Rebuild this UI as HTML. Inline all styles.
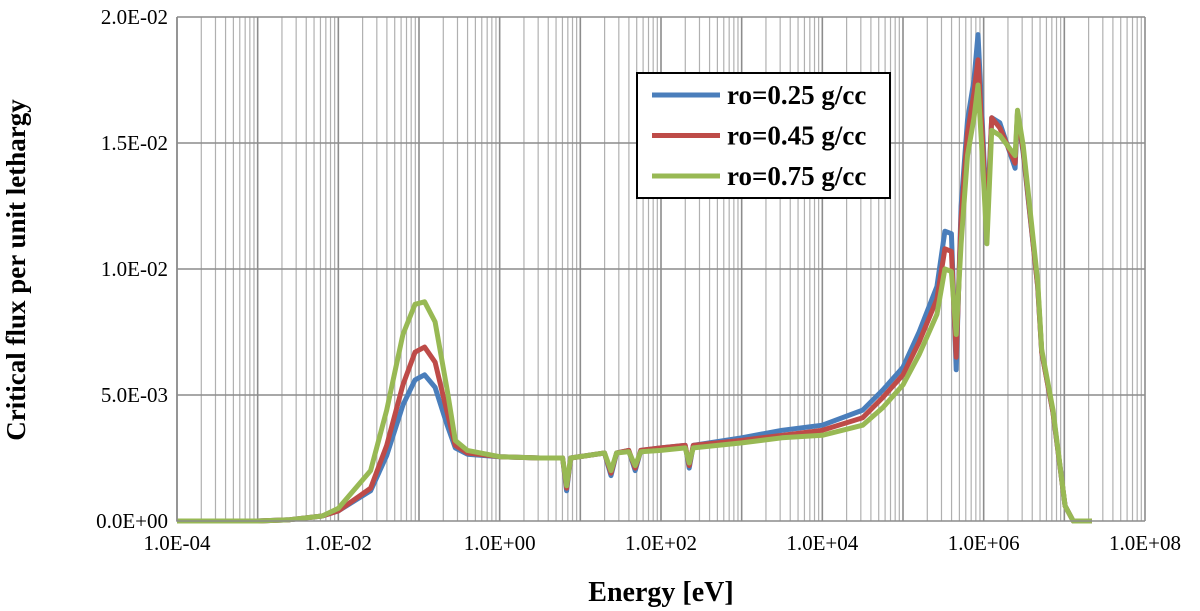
<!DOCTYPE html>
<html><head><meta charset="utf-8"><style>
body{margin:0;background:#fff}
svg{display:block;font-family:"Liberation Serif",serif}
</style></head><body>
<svg width="1200" height="611" viewBox="0 0 1200 611" xmlns="http://www.w3.org/2000/svg">
<g id="grid"></g>
<g id="series"></g>
<g id="axes"></g>
<text transform="translate(25,270) rotate(-90)" text-anchor="middle" font-weight="bold" font-size="27">Critical flux per unit lethargy</text>
<text x="661" y="601" text-anchor="middle" font-weight="bold" font-size="28">Energy [eV]</text>
<g>
<rect x="637" y="73" width="253" height="125" fill="#fff" stroke="#000" stroke-width="2"/>
<g id="legend-items"></g>
</g>
</svg>
<script>
const logE=[-4,-3,-2.6,-2.2,-2,-1.6,-1.4,-1.2,-1.05,-0.93,-0.8,-0.65,-0.55,-0.4,0,0.5,0.78,0.83,0.88,1.3,1.38,1.45,1.6,1.68,1.75,2.0,2.3,2.35,2.4,3,3.5,4,4.5,4.75,5.0,5.2,5.42,5.52,5.6,5.66,5.72,5.8,5.88,5.93,5.98,6.04,6.1,6.2,6.39,6.42,6.49,6.67,6.72,6.86,7.01,7.11,7.34];
const blueVals=[0,0,0.05,0.2,0.4,1.2,2.6,4.6,5.6,5.8,5.3,3.8,2.9,2.65,2.55,2.5,2.5,1.2,2.5,2.7,1.8,2.7,2.8,2.0,2.8,2.9,3.0,2.1,3.0,3.3,3.6,3.8,4.4,5.2,6.1,7.5,9.3,11.5,11.4,6.0,12.5,15.9,17.5,19.3,16.0,11.8,16.0,15.8,14.0,16.2,14.6,9.3,6.7,4.3,0.6,0,0];
const redVals=[0,0,0.05,0.2,0.4,1.3,3.0,5.4,6.7,6.9,6.3,4.3,3.0,2.7,2.55,2.5,2.5,1.3,2.5,2.7,1.9,2.7,2.8,2.1,2.8,2.9,3.0,2.2,3.0,3.2,3.4,3.6,4.1,4.9,5.8,7.1,8.8,10.8,10.7,6.5,12.0,15.4,17.0,18.3,15.5,11.5,16.0,15.6,14.2,16.2,14.7,9.3,6.7,4.3,0.6,0,0];
const greenVals=[0,0,0.05,0.2,0.5,2.0,4.4,7.4,8.6,8.7,7.9,5.2,3.2,2.8,2.55,2.5,2.5,1.4,2.5,2.7,2.0,2.7,2.75,2.2,2.75,2.8,2.9,2.3,2.9,3.1,3.3,3.4,3.8,4.5,5.4,6.6,8.2,10.0,9.9,7.4,11.0,14.5,16.0,17.3,14.6,11.0,15.5,15.3,14.5,16.3,14.9,9.5,6.8,4.4,0.6,0,0];
const xTickLabels=["1.0E-04","1.0E-02","1.0E+00","1.0E+02","1.0E+04","1.0E+06","1.0E+08"];
const yTickLabels=["0.0E+00","5.0E-03","1.0E-02","1.5E-02","2.0E-02"];
const seriesNames=["ro=0.25 g/cc","ro=0.45 g/cc","ro=0.75 g/cc"];
const X0=177,X1=1145,Y0=521,Y1=17;
const xs=l=>X0+(l+4)/12*(X1-X0);
const ys=v=>Y0-v/20*(Y0-Y1);
const NS="http://www.w3.org/2000/svg";
function mk(t,a,p){const e=document.createElementNS(NS,t);for(const k in a)e.setAttribute(k,a[k]);p.appendChild(e);return e;}
const grid=document.getElementById('grid'),axes=document.getElementById('axes');
for(let d=-4;d<8;d++){for(let m=2;m<=9;m++){const x=xs(d+Math.log10(m));
const l=mk('line',{x1:x,x2:x,y1:Y1,y2:Y0,stroke:'#b0b0b0','stroke-width':1.2},grid);

}}
for(let d=-4;d<=8;d++){const x=xs(d);
const l=mk('line',{x1:x,x2:x,y1:Y1,y2:Y0,stroke:'#8c8c8c','stroke-width':1.6},grid);

}
yTickLabels.forEach((t,i)=>{const y=ys(i*5);
if(i>0){const l=mk('line',{x1:X0,x2:X1,y1:y,y2:y,stroke:'#8c8c8c','stroke-width':1.6},grid);

}
const tx=mk('text',{x:X0-9,y:y+7,'text-anchor':'end','font-size':21},axes);tx.textContent=t;

});
xTickLabels.forEach((t,i)=>{const x=xs(-4+2*i);
const tx=mk('text',{x:x,y:Y0+29,'text-anchor':'middle','font-size':21},axes);tx.textContent=t;

});
const ax=mk('path',{d:`M${X0},${Y1}V${Y0}H${X1}`,fill:'none',stroke:'#8c8c8c','stroke-width':1.6},axes);


const colors=['#4a7ebb','#be4b48','#98b954'];
const sg=document.getElementById('series');
[blueVals,redVals,greenVals].forEach((vals,si)=>{
const d=vals.map((v,i)=>(i?'L':'M')+xs(logE[i]).toFixed(1)+','+ys(v).toFixed(1)).join('');
const p=mk('path',{d:d,fill:'none',stroke:colors[si],'stroke-width':5,'stroke-linejoin':'round'},sg);

});
const li=document.getElementById('legend-items');
seriesNames.forEach((n,i)=>{const y=95+i*40.5;
const l=mk('line',{x1:652,x2:720,y1:y,y2:y,stroke:colors[i],'stroke-width':5},li);


const t=mk('text',{x:727,y:y+9,'font-size':27,'font-weight':'bold'},li);t.textContent=n;

});
</script>
</body></html>
